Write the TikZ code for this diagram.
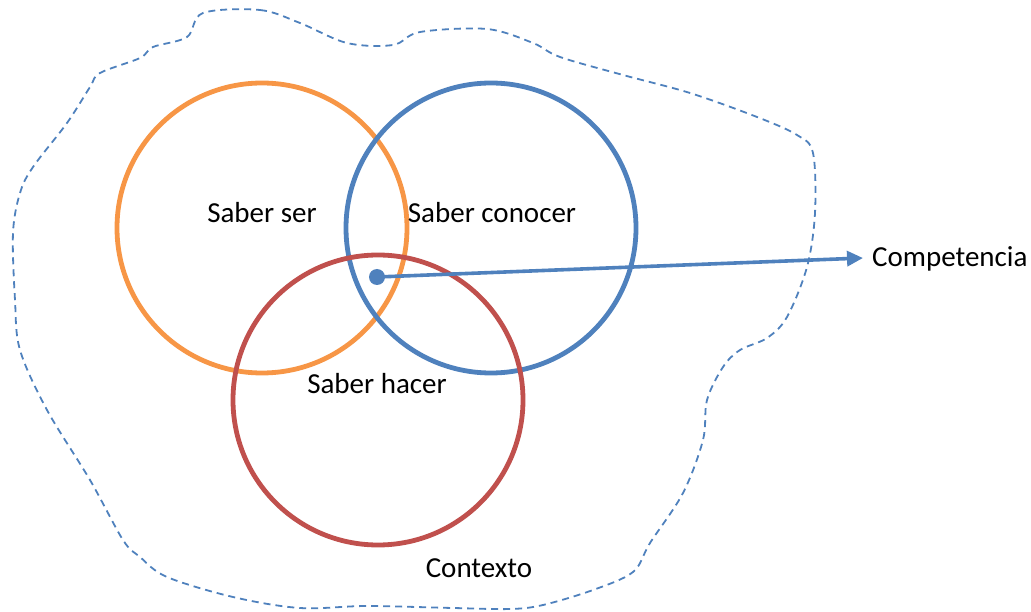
\documentclass[tikz,border=0pt]{standalone}
\usepackage{fontspec}
\setmainfont{Carlito}
\usetikzlibrary{arrows.meta}
\definecolor{oorange}{HTML}{F79646}
\definecolor{oblue}{HTML}{4F81BD}
\definecolor{ored}{HTML}{C0504D}
\begin{document}
\begin{tikzpicture}[x=1pt,y=-1pt,
  ring/.style={circle, draw, line width=4.8pt, minimum size=290pt, inner sep=0pt},
  lbl/.style={anchor=base, inner sep=0pt, font=\fontsize{29}{34}\selectfont},
  ctx/.style={draw=oblue, line width=1.8pt, dash pattern=on 7pt off 5pt}]
\useasboundingbox (0,0) rectangle (1031,612);
\draw[ctx] plot[smooth cycle, tension=0.55] coordinates {
 (203,13) (260,10) (300,23) (347,43) (393,45) (420,32) (487,29) (533,43)
 (560,57) (623,75) (690,93) (757,117) (797,135) (813,153) (815,213) (807,267)
 (787,317) (767,338) (740,350) (723,367) (707,400) (703,440) (683,493) (650,543)
 (633,572) (593,590) (543,605) (510,609) (453,608) (367,606) (300,608) (233,597)
 (167,577) (140,557) (123,540) (90,480) (47,410) (20,350) (15,300) (13,233)
 (20,193) (33,167) (67,123) (90,87) (100,73) (140,58) (153,47) (187,37)};
\node[ring, draw=oorange] (ser) at (262,228) {};
\node[ring, draw=oblue] (conocer) at (491,228) {};
\node[ring, draw=ored] (hacer) at (378,400) {};
\node[lbl] (tser) at (262,223) {Saber ser};
\node[lbl] (tconocer) at (492,223) {Saber conocer};
\node[lbl] (thacer) at (377,393) {Saber hacer};
\node[lbl] (tctx) at (479,577) {Contexto};
\node[lbl, anchor=base west] (tcomp) at (872,267) {Competencia};
\node[circle, fill=oblue, minimum size=16pt, inner sep=0pt] (dot) at (377,277) {};
\coordinate (tip) at (863,258);
\draw[oblue, line width=3.6pt, -{Triangle[length=16pt,width=15pt]}] (dot.center) -- (tip);
\end{tikzpicture}
\end{document}
